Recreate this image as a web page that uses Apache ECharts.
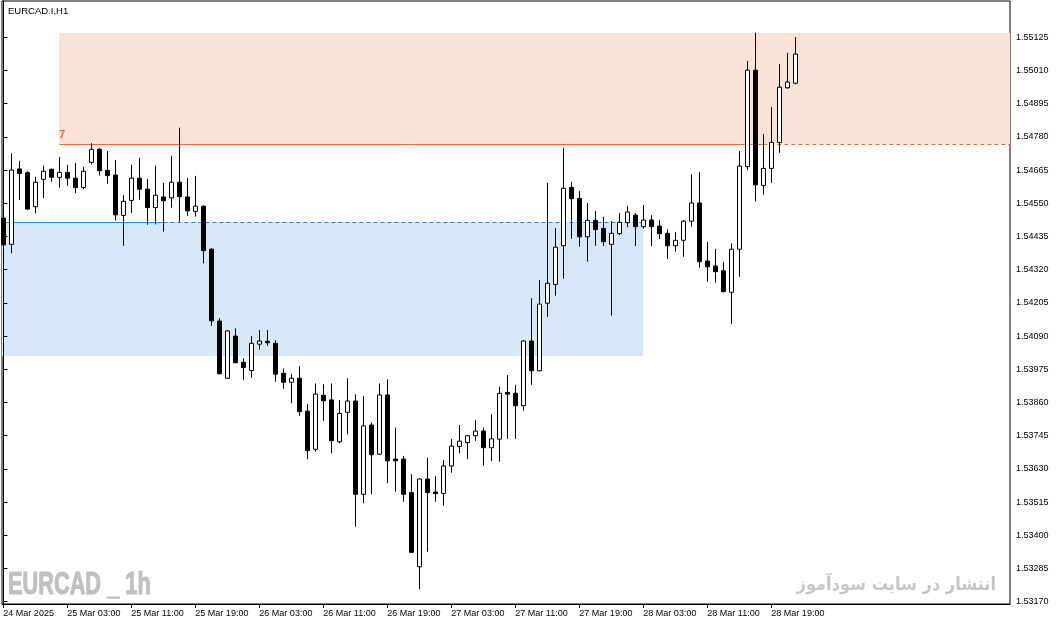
<!DOCTYPE html>
<html><head><meta charset="utf-8">
<script src="https://cdn.jsdelivr.net/npm/echarts@6/dist/echarts.min.js"></script>
<style>html,body{margin:0;padding:0;background:#fff}#c{width:1056px;height:625px}</style>
</head><body><div id="c"></div>
<script>
// EURCAD.I H1, bars from 24 Mar 2025 19:00 (index 0) to 28 Mar 22:00 (index 99)
const openP = [1.54499,1.54408,1.54669,1.54656,1.54538,1.54633,1.54668,1.54640,1.54657,1.54637,
1.54605,1.54692,1.54737,1.54664,1.54648,1.54508,1.54560,1.54637,1.54599,1.54535,
1.54572,1.54569,1.54623,1.54572,1.54522,1.54540,1.54391,1.54142,1.53944,1.54090,
1.53999,1.53971,1.54062,1.54072,1.54065,1.53961,1.53930,1.53944,1.53830,1.53698,
1.53885,1.53869,1.53724,1.53826,1.53865,1.53542,1.53782,1.53681,1.53886,1.53664,
1.53664,1.53548,1.53291,1.53595,1.53550,1.53545,1.53640,1.53708,1.53721,1.53745,
1.53761,1.53703,1.53733,1.53895,1.53892,1.53849,1.54073,1.53970,1.54204,1.54269,
1.54403,1.54605,1.54567,1.54434,1.54491,1.54463,1.54408,1.54445,1.54483,1.54509,
1.54469,1.54492,1.54471,1.54446,1.54403,1.54422,1.54488,1.54551,1.54350,1.54333,
1.54316,1.54242,1.54391,1.54677,1.55011,1.54612,1.54671,1.54761,1.54950,1.54966];
const closeP = [1.54406,1.54665,1.54653,1.54530,1.54623,1.54661,1.54640,1.54657,1.54637,1.54604,
1.54661,1.54737,1.54663,1.54646,1.54510,1.54557,1.54637,1.54599,1.54535,1.54578,
1.54559,1.54623,1.54573,1.54524,1.54540,1.54386,1.54143,1.53960,1.54108,1.53998,
1.53981,1.54065,1.54073,1.54067,1.53958,1.53930,1.53944,1.53828,1.53693,1.53889,
1.53866,1.53728,1.53822,1.53865,1.53542,1.53779,1.53679,1.53886,1.53658,1.53658,
1.53542,1.53341,1.53595,1.53548,1.53544,1.53640,1.53709,1.53726,1.53745,1.53761,
1.53703,1.53734,1.53892,1.53889,1.53849,1.54073,1.53970,1.54201,1.54273,1.54398,
1.54602,1.54566,1.54434,1.54491,1.54459,1.54417,1.54446,1.54484,1.54520,1.54469,
1.54492,1.54469,1.54445,1.54403,1.54422,1.54488,1.54551,1.54348,1.54330,1.54313,
1.54244,1.54391,1.54679,1.55011,1.54614,1.54671,1.54761,1.54952,1.54970,1.55067];
const lowP = [1.54395,1.54377,1.54561,1.54527,1.54515,1.54568,1.54625,1.54604,1.54611,1.54585,
1.54599,1.54685,1.54646,1.54618,1.54490,1.54403,1.54517,1.54562,1.54476,1.54477,
1.54452,1.54535,1.54486,1.54507,1.54504,1.54342,1.54125,1.53957,1.53942,1.53996,
1.53938,1.53946,1.54044,1.54056,1.53932,1.53908,1.53857,1.53814,1.53663,1.53690,
1.53797,1.53684,1.53719,1.53750,1.53430,1.53511,1.53542,1.53679,1.53580,1.53551,
1.53516,1.53339,1.53213,1.53343,1.53516,1.53502,1.53617,1.53684,1.53664,1.53727,
1.53641,1.53657,1.53655,1.53734,1.53734,1.53832,1.53921,1.53968,1.54157,1.54230,
1.54289,1.54427,1.54400,1.54348,1.54403,1.54402,1.54161,1.54440,1.54467,1.54402,
1.54462,1.54402,1.54426,1.54357,1.54382,1.54365,1.54469,1.54327,1.54278,1.54275,
1.54242,1.54131,1.54296,1.54665,1.54556,1.54580,1.54621,1.54725,1.54947,1.54962];
const highP = [1.54645,1.54723,1.54697,1.54661,1.54642,1.54680,1.54670,1.54710,1.54683,1.54689,
1.54677,1.54758,1.54741,1.54731,1.54700,1.54578,1.54684,1.54707,1.54634,1.54680,
1.54621,1.54714,1.54812,1.54638,1.54645,1.54543,1.54394,1.54152,1.54110,1.54117,
1.54013,1.54090,1.54111,1.54111,1.54076,1.53978,1.53959,1.53986,1.53855,1.53926,
1.53923,1.53926,1.53869,1.53944,1.53888,1.53883,1.53791,1.53926,1.53940,1.53773,
1.53675,1.53612,1.53597,1.53669,1.53606,1.53661,1.53734,1.53782,1.53747,1.53799,
1.53773,1.53820,1.53915,1.53955,1.53921,1.54076,1.54221,1.54284,1.54621,1.54464,
1.54742,1.54624,1.54593,1.54551,1.54523,1.54503,1.54489,1.54516,1.54541,1.54516,
1.54544,1.54509,1.54492,1.54460,1.54451,1.54492,1.54651,1.54658,1.54416,1.54392,
1.54347,1.54411,1.54731,1.55043,1.55141,1.54790,1.54883,1.55033,1.55071,1.55126];

const xTickIndex = [0,8,16,24,32,40,48,56,64,72,80,88,96];
const xTickLabels = ['24 Mar 2025','25 Mar 03:00','25 Mar 11:00','25 Mar 19:00','26 Mar 03:00','26 Mar 11:00',
  '26 Mar 19:00','27 Mar 03:00','27 Mar 11:00','27 Mar 19:00','28 Mar 03:00','28 Mar 11:00','28 Mar 19:00'];
const yTicks = [1.55125,1.55010,1.54895,1.54780,1.54665,1.54550,1.54435,1.54320,1.54205,
  1.54090,1.53975,1.53860,1.53745,1.53630,1.53515,1.53400,1.53285,1.53170];

// zones
const supplyTop = 1.55140, supplyBottom = 1.54757, supplyStart = 7, supplySolidEnd = 95;
const demandTop = 1.54487, demandBottom = 1.54021, demandEnd = 80, demandSolidEnd = 20;

const X_MIN = -0.17, X_MAX = X_MIN + 1008 / 8;
const Y_MIN = 1.5316203, Y_MAX = 1.5525074;

// zone rectangles: [xFrom, priceTop, xTo, priceBottom]
const zoneData = [[supplyStart, supplyTop, X_MAX, supplyBottom], [X_MIN, demandTop, demandEnd, demandBottom]];
const zoneFill = ['#FBE2D6', '#D7E8F8'];
// level lines: [xFrom, price, xTo]
const levelData = [[X_MIN, demandTop, demandSolidEnd], [demandSolidEnd, demandTop, demandEnd],
                   [supplyStart, supplyBottom, supplySolidEnd], [supplySolidEnd, supplyBottom, X_MAX]];
const levelColor = ['#1E88E5', '#1E88E5', '#EE6A2C', '#EE6A2C'];
const levelDash = [null, [4, 3], null, [4, 3]];
const levelLabel = ['', '', '7', ''];

const FONT = '"Liberation Sans", Arial, sans-serif';
const candles = openP.map((o, i) => [i, o, closeP[i], lowP[i], highP[i]]);

const chart = echarts.init(document.getElementById('c'));
chart.setOption({
  animation: false,
  backgroundColor: '#fff',
  grid: { left: 2, right: 46, top: 1, bottom: 21, show: true, borderColor: '#000', borderWidth: 1, backgroundColor: 'transparent' },
  xAxis: {
    type: 'value', min: X_MIN, max: X_MAX,
    axisLine: { show: true, lineStyle: { color: '#000', width: 1 } },
    axisTick: { show: true, length: 4, lineStyle: { color: '#000' }, customValues: xTickIndex },
    axisLabel: {
      customValues: xTickIndex, align: 'left', color: '#000', fontSize: 9, fontFamily: FONT, margin: 5,
      formatter: v => xTickLabels[xTickIndex.indexOf(Math.round(v))] || ''
    },
    splitLine: { show: false }
  },
  yAxis: {
    type: 'value', position: 'right', min: Y_MIN, max: Y_MAX,
    axisLine: { show: true, lineStyle: { color: '#000', width: 1 } },
    axisTick: { show: true, length: 4, lineStyle: { color: '#000' }, customValues: yTicks },
    axisLabel: { customValues: yTicks, color: '#000', fontSize: 9, fontFamily: FONT, margin: 6, formatter: v => v.toFixed(5) },
    splitLine: { show: false }
  },
  series: [
    {
      type: 'custom', silent: true, z: 0, clip: true,
      encode: { x: [0, 2], y: [1, 3] },
      data: zoneData,
      renderItem: function (params, api) {
        const a = api.coord([api.value(0), api.value(1)]);
        const b = api.coord([api.value(2), api.value(3)]);
        const x0 = Math.round(a[0]), x1 = Math.round(b[0]);
        const y0 = Math.floor(a[1]) + 1, y1 = Math.round(b[1]);
        return { type: 'rect', silent: true, shape: { x: x0, y: y0, width: x1 - x0, height: y1 - y0 },
                 style: { fill: zoneFill[params.dataIndex], stroke: null, lineWidth: 0 } };
      }
    },
    {
      type: 'custom', silent: true, z: 1, clip: true,
      encode: { x: [0, 2], y: 1 },
      data: levelData,
      renderItem: function (params, api) {
        const i = params.dataIndex;
        const a = api.coord([api.value(0), api.value(1)]);
        const b = api.coord([api.value(2), api.value(1)]);
        const yy = Math.floor(a[1]) + 1.5;
        const children = [{
          type: 'line', silent: true,
          shape: { x1: a[0], y1: yy, x2: b[0], y2: yy },
          style: { stroke: levelColor[i], lineWidth: 1, lineDash: levelDash[i], fill: null }
        }];
        if (levelLabel[i]) {
          children.push({ type: 'text', silent: true, x: Math.round(a[0]), y: yy - 4.5,
            style: { text: levelLabel[i], fill: levelColor[i], fontSize: 11, fontWeight: 'bold', fontFamily: FONT,
                     align: 'left', verticalAlign: 'bottom' } });
        }
        return { type: 'group', children: children };
      }
    },
    {
      type: 'candlestick',
      encode: { x: 0, y: [1, 2, 3, 4] },
      data: candles,
      barWidth: 4,
      z: 2,
      clip: true,
      itemStyle: { color: '#fff', color0: '#000', borderColor: '#000', borderColor0: '#000', borderWidth: 1 },
      emphasis: { disabled: true }
    }
  ],
  graphic: [
    { type: 'text', left: 8, top: 6, silent: true, style: { text: 'EURCAD.I,H1', fontSize: 9.5, fontFamily: FONT, fill: '#000' } },
    { type: 'text', x: 8, y: 585, scaleX: 0.68, silent: true, z: 0,
      style: { text: 'EURCAD _ 1h', fontSize: 32, fontWeight: 'bold', fontFamily: '"Liberation Sans Narrow", "Liberation Sans", sans-serif',
               fill: '#C0C0C0', stroke: '#C0C0C0', lineWidth: 1.2, align: 'left', verticalAlign: 'middle' } },
    { type: 'text', x: 996, y: 585, scaleX: 0.9, silent: true, z: 0,
      style: { text: 'انتشار در سایت سودآموز', fontSize: 18, fontWeight: 'bold', fontFamily: '"DejaVu Sans", sans-serif',
               fill: '#C6C6C6', align: 'right', verticalAlign: 'middle' } }
  ]
});
</script></body></html>
